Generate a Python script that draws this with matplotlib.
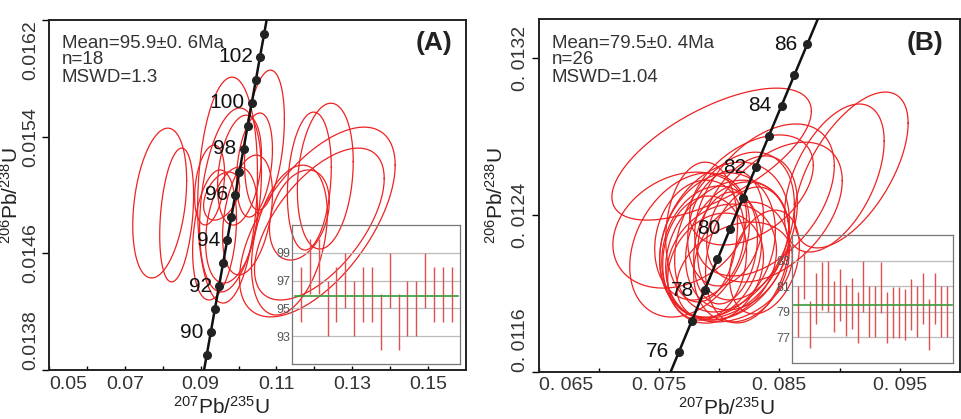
import numpy as np
import matplotlib
matplotlib.use("Agg")
import matplotlib.pyplot as plt

plt.rcParams['font.family'] = ['Liberation Sans', 'DejaVu Sans']
plt.rcParams['mathtext.fontset'] = 'custom'
plt.rcParams['mathtext.rm'] = 'Liberation Sans'
plt.rcParams['mathtext.it'] = 'Liberation Sans:italic'

# ---- panel A : concordia points, ages 88..104 Ma
conc_a_x = [0.09053, 0.09161, 0.09268, 0.09376, 0.09484, 0.09592, 0.09700, 0.09808, 0.09916,
            0.10024, 0.10133, 0.10241, 0.10350, 0.10459, 0.10567, 0.10676, 0.10785]
conc_a_y = [0.013745, 0.013902, 0.014059, 0.014217, 0.014374, 0.014531, 0.014689, 0.014846, 0.015003,
            0.015161, 0.015318, 0.015476, 0.015633, 0.015791, 0.015949, 0.016106, 0.016264]
conc_a_lab = {2: '90', 4: '92', 6: '94', 8: '96', 10: '98', 12: '100', 14: '102'}

# error ellipses: centre x, centre y, sigma x, sigma y, rho
ell_a_x = [0.07921, 0.08368, 0.09711, 0.09789, 0.10684, 0.09553, 0.11868, 0.12289, 0.12079,
           0.12132, 0.11605, 0.10421, 0.09816, 0.09368, 0.10237, 0.10026, 0.09237, 0.11342]
ell_a_y = [0.014945, 0.014863, 0.015034, 0.014966, 0.015377, 0.014993, 0.015096, 0.015130, 0.014815,
           0.014801, 0.014863, 0.015206, 0.014794, 0.014726, 0.014863, 0.015171, 0.015069, 0.014691]
ell_a_sx = [0.00711, 0.00447, 0.00789, 0.00816, 0.00526, 0.00474, 0.00579, 0.00737, 0.02053,
            0.01711, 0.00789, 0.00474, 0.00684, 0.00579, 0.00658, 0.00579, 0.00395, 0.01000]
ell_a_sy = [0.000514, 0.000459, 0.000775, 0.000631, 0.000480, 0.000165, 0.000473, 0.000500, 0.000651,
            0.000521, 0.000309, 0.000357, 0.000398, 0.000446, 0.000411, 0.000377, 0.000274, 0.000514]
ell_a_r = [0.3, 0.3, 0.15, 0.3, 0.3, 0.4, 0.2, 0.2, 0.6, 0.6, 0.3, 0.3, 0.3, 0.25, 0.35, 0.3, 0.3, 0.35]

# weighted mean inset A
age_a = [96, 98, 98, 95, 96, 97, 95, 96, 96, 94, 97, 94, 95, 95, 97, 96, 96, 96]
err_a = [2] * 18
mean_a = 95.9

# ---- panel B
conc_b_x = [0.07560, 0.07666, 0.07772, 0.07878, 0.07985, 0.08091, 0.08197, 0.08304,
            0.08411, 0.08518, 0.08625, 0.08732, 0.08839]
conc_b_y = [0.011545, 0.011702, 0.011859, 0.012016, 0.012173, 0.012331, 0.012487, 0.012644,
            0.012802, 0.012959, 0.013116, 0.013273, 0.013430]
conc_b_lab = {1: '76', 3: '78', 5: '80', 7: '82', 9: '84', 11: '86'}

ell_b_x = [0.07937, 0.09097, 0.08956, 0.07672, 0.07754, 0.08044, 0.07986, 0.08069, 0.07937,
           0.08127, 0.07879, 0.08152, 0.08020, 0.08235, 0.07837, 0.08185, 0.08053, 0.08376,
           0.08459, 0.08268, 0.07970, 0.08127, 0.07854, 0.08235, 0.08376, 0.08053]
ell_b_y = [0.012711, 0.012630, 0.012589, 0.012323, 0.012247, 0.012272, 0.012247, 0.012221, 0.012211,
           0.012313, 0.012180, 0.012242, 0.012160, 0.012334, 0.012272, 0.012160, 0.012334, 0.012477,
           0.012415, 0.012528, 0.012129, 0.012109, 0.012313, 0.012196, 0.012160, 0.012232]
ell_b_sx = [0.008285, 0.004722, 0.004143, 0.005551, 0.004971, 0.005385, 0.004805, 0.005137, 0.004143,
            0.004971, 0.003480, 0.004308, 0.004557, 0.004143, 0.003728, 0.003977, 0.003148, 0.005800,
            0.005630, 0.005137, 0.003977, 0.004805, 0.002983, 0.003480, 0.002900, 0.002651]
ell_b_sy = [0.000337, 0.000398, 0.000378, 0.000296, 0.000368, 0.000398, 0.000368, 0.000357, 0.000337,
            0.000408, 0.000317, 0.000327, 0.000296, 0.000368, 0.000306, 0.000306, 0.000296, 0.000388,
            0.000357, 0.000281, 0.000281, 0.000255, 0.000357, 0.000347, 0.000265, 0.000286]
ell_b_r = [0.65, 0.6, 0.5, 0.25, 0.3, 0.25, 0.2, 0.25, 0.15, 0.35, 0.1, 0.2, 0.2, 0.35, 0.15,
           0.2, 0.2, 0.45, 0.45, 0.45, 0.2, 0.3, 0.1, 0.25, 0.3, 0.2]

age_b = [79, 81.86, 77.98, 80, 81, 81, 79.4, 80.3, 79.1, 79.65, 78.55, 81, 79, 79, 80.9, 78.55,
         78.95, 78.9, 78.8, 79.58, 79, 80, 78, 80, 79, 79]
err_b = [2, 1.87, 1.83, 2, 1.89] + [2] * 21
mean_b = 79.5

ticks_a_x = [0.05, 0.06, 0.07, 0.08, 0.09, 0.10, 0.11, 0.12, 0.13, 0.14, 0.15]
labels_a_x = ['0.05', '', '0.07', '', '0.09', '', '0.11', '', '0.13', '', '0.15']
ticks_a_y = [0.0138, 0.0146, 0.0154, 0.0162]
labels_a_y = ['0.0138', '0.0146', '0.0154', '0.0162']
ticks_b_x = [0.065, 0.070, 0.075, 0.080, 0.085, 0.090, 0.095]
labels_b_x = ['0. 065', '', '0. 075', '', '0. 085', '', '0. 095']
ticks_b_y = [0.0116, 0.0124, 0.0132]
labels_b_y = ['0. 0116', '0. 0124', '0. 0132']

RED = '#ee2222'


def ellipse_xy(cx, cy, sx, sy, r):
    t = np.linspace(0, 2 * np.pi, 200)
    return cx + sx * np.cos(t), cy + sy * (r * np.cos(t) + np.sqrt(1 - r * r) * np.sin(t))


def main_panel(ax, ex, ey, esx, esy, er, cx, cy, clab, dx):
    for i in range(len(ex)):
        px, py = ellipse_xy(ex[i], ey[i], esx[i], esy[i], er[i])
        ax.plot(px, py, color=RED, lw=0.9, zorder=2)
    ax.plot(cx, cy, color='#111111', lw=1.8, zorder=3)
    ax.plot(cx[1:-1], cy[1:-1], 'o', color='#222222', ms=5.5, zorder=4)
    for k, s in clab.items():
        ax.annotate(s, (cx[k], cy[k]), xytext=(dx, 0), textcoords='offset pixels',
                    ha='right', va='center', fontsize=15, color='#111111', zorder=5)
    for sp in ax.spines.values():
        sp.set_color('#222222')
        sp.set_linewidth(1.4)
    ax.tick_params(axis='x', direction='in', length=3, width=1, labelsize=14,
                   labelcolor='#333333', pad=4)
    ax.tick_params(axis='y', direction='out', length=5, width=1, labelsize=14,
                   labelcolor='#333333', pad=2)


def stats(ax, lines, ys):
    for s, y in zip(lines, ys):
        ax.text(0.031, y, s, transform=ax.transAxes, fontsize=13.5, color='#333333', va='center')


def inset(rect, ages, errs, mean, ylim, xlim, yt):
    ins = fig.add_axes(rect, facecolor='none')
    idx = np.arange(1, len(ages) + 1)
    for v in yt:
        ins.axhline(v, color='#bbbbbb', lw=0.9, zorder=1)
    ins.vlines(idx, np.array(ages) - np.array(errs), np.array(ages) + np.array(errs),
               color='#e05050', lw=1.0, zorder=2)
    ins.plot([xlim[0] + 0.3, xlim[1] - 0.2], [mean, mean], color='#3a9a3a', lw=1.2, zorder=3)
    ins.set_xlim(*xlim)
    ins.set_ylim(*ylim)
    ins.set_xticks([])
    ins.set_yticks(yt, [str(v) for v in yt])
    ins.tick_params(axis='y', length=0, labelsize=9, labelcolor='#555555', pad=1)
    for sp in ins.spines.values():
        sp.set_color('#777777')
        sp.set_linewidth(0.9)
    return ins


fig = plt.figure(figsize=(9.62, 4.19), dpi=100)
axA = fig.add_axes([0.0509, 0.117, 0.4335, 0.835])
axB = fig.add_axes([0.5599, 0.1129, 0.438, 0.8413])

# panel A
main_panel(axA, ell_a_x, ell_a_y, ell_a_sx, ell_a_sy, ell_a_r, conc_a_x, conc_a_y, conc_a_lab, -7)
axA.set_xlim(0.05, 0.16)
axA.set_ylim(0.0138, 0.0162)
axA.set_xticks(ticks_a_x, labels_a_x)
axA.get_xticklabels()[0].set_ha('left')
axA.set_yticks(ticks_a_y, labels_a_y, rotation=90, va='center')
axA.get_yticklabels()[0].set_va('bottom')
axA.get_yticklabels()[-1].set_va('top')
axA.set_xlabel(r'$\mathrm{^{207}Pb/^{235}U}$', fontsize=15, color='#222222')
axA.set_ylabel(r'$\mathrm{^{206}Pb/^{238}U}$', fontsize=15, color='#222222')
axA.xaxis.set_label_coords(0.415, -0.075)
axA.yaxis.set_label_coords(-0.065, 0.5)
stats(axA, ['Mean=95.9±0. 6Ma', 'n=18', 'MSWD=1.3'], [0.934, 0.886, 0.837])
axA.text(0.923, 0.934, '(A)', transform=axA.transAxes, fontsize=19, fontweight='bold',
         color='#222222', ha='center', va='center')

# panel B
main_panel(axB, ell_b_x, ell_b_y, ell_b_sx, ell_b_sy, ell_b_r, conc_b_x, conc_b_y, conc_b_lab, -10)
axB.set_xlim(0.065, 0.1)
axB.set_ylim(0.0116, 0.0134)
axB.set_xticks(ticks_b_x, labels_b_x)
axB.get_xticklabels()[0].set_ha('left')
axB.set_yticks(ticks_b_y, labels_b_y, rotation=90, va='center')
axB.get_yticklabels()[0].set_va('bottom')
axB.set_xlabel(r'$\mathrm{^{207}Pb/^{235}U}$', fontsize=15, color='#222222')
axB.set_ylabel(r'$\mathrm{^{206}Pb/^{238}U}$', fontsize=15, color='#222222')
axB.xaxis.set_label_coords(0.447, -0.072)
axB.yaxis.set_label_coords(-0.075, 0.5)
stats(axB, ['Mean=79.5±0. 4Ma', 'n=26', 'MSWD=1.04'], [0.932, 0.887, 0.836])
axB.text(0.917, 0.932, '(B)', transform=axB.transAxes, fontsize=19, fontweight='bold',
         color='#222222', ha='center', va='center')

inset([0.3035, 0.1313, 0.1746, 0.3317], age_a, err_a, mean_a, (91, 101), (0, 18.9), [93, 95, 97, 99])
inset([0.823, 0.1344, 0.1677, 0.3048], age_b, err_b, mean_b, (75, 85), (-0.1, 27.1), [77, 79, 81, 83])

fig.savefig('out.png', dpi=100)
